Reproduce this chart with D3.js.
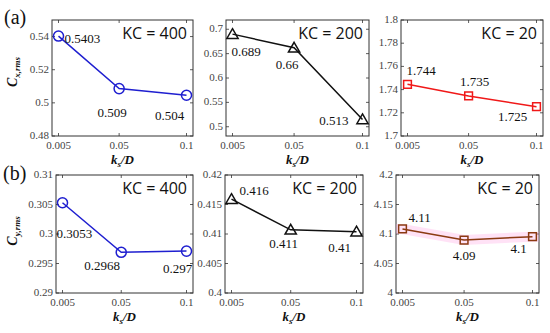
<!DOCTYPE html>
<html>
<head>
<meta charset="utf-8">
<script src="https://cdn.jsdelivr.net/npm/d3@7"></script>
<style>
  body { margin: 0; background: #fff; }
  svg { display: block; }
  .tick-label { font-family: "Liberation Serif", "Times New Roman", serif; font-size: 11px; fill: #444; }
  .val-label { font-family: "Liberation Serif", "Times New Roman", serif; font-size: 13px; fill: #111; }
  .kc-label { font-family: "Open Sans", sans-serif; font-size: 16px; fill: #111; }
  .ax-label { font-family: "Liberation Serif", "Times New Roman", serif; font-size: 13px; font-weight: bold; font-style: italic; fill: #111; }
  .panel-tag { font-family: "Liberation Serif", "Times New Roman", serif; font-size: 20px; fill: #111; }
</style>
</head>
<body>
<div id="chart"></div>
<script>
// data
const ksD = [0.005, 0.05, 0.1];
const xTickLabels = ["0.005", "0.05", "0.1"];

const cxKC400 = [0.5403, 0.5086, 0.5046];
const cxKC200 = [0.690, 0.662, 0.515];
const cxKC20 = [1.7446, 1.7345, 1.7253];
const cyKC400 = [0.3053, 0.2969, 0.2971];
const cyKC200 = [0.4159, 0.4107, 0.4104];
const cyKC20 = [4.1085, 4.0898, 4.0955];

const cxKC400Text = ["0.5403", "0.509", "0.504"];
const cxKC200Text = ["0.689", "0.66", "0.513"];
const cxKC20Text = ["1.744", "1.735", "1.725"];
const cyKC400Text = ["0.3053", "0.2968", "0.297"];
const cyKC200Text = ["0.416", "0.411", "0.41"];
const cyKC20Text = ["4.11", "4.09", "4.1"];

const cxKC400Ticks = [0.48, 0.5, 0.52, 0.54];
const cxKC200Ticks = [0.5, 0.55, 0.6, 0.65, 0.7];
const cxKC20Ticks = [1.7, 1.72, 1.74, 1.76, 1.78, 1.8];
const cyKC400Ticks = [0.29, 0.295, 0.3, 0.305, 0.31];
const cyKC200Ticks = [0.4, 0.405, 0.41, 0.415, 0.42];
const cyKC20Ticks = [4, 4.05, 4.1, 4.15, 4.2];

const kcNames = ["KC = 400", "KC = 200", "KC = 20"];

// layout of the six panels
const panels = [
  {box: [52, 20, 193, 136], ydom: [0.48, 0.55], ticks: cxKC400Ticks, vals: cxKC400, text: cxKC400Text, kc: kcNames[0],
   color: "#1f1fd0", marker: "circle", off: [[6, 7, "start"], [-7, 28, "middle"], [-17, 25, "middle"]]},
  {box: [226, 20, 369, 136], ydom: [0.481, 0.719], ticks: cxKC200Ticks, vals: cxKC200, text: cxKC200Text, kc: kcNames[1],
   color: "#111", marker: "triangle", off: [[-1, 22, "start"], [-7, 21, "middle"], [-14, 6, "end"]]},
  {box: [401, 20, 543, 136], ydom: [1.7, 1.8], ticks: cxKC20Ticks, vals: cxKC20, text: cxKC20Text, kc: kcNames[2],
   color: "#f01818", marker: "square", off: [[-1, -9, "start"], [6, -10, "middle"], [-24, 14, "middle"]]},
  {box: [56, 175, 193, 293], ydom: [0.29, 0.31], ticks: cyKC400Ticks, vals: cyKC400, text: cyKC400Text, kc: kcNames[0],
   color: "#1f1fd0", marker: "circle", off: [[-6, 35, "start"], [-19, 18, "middle"], [-9, 22, "middle"]]},
  {box: [225, 175, 363, 293], ydom: [0.4, 0.42], ticks: cyKC200Ticks, vals: cyKC200, text: cyKC200Text, kc: kcNames[1],
   color: "#111", marker: "triangle", off: [[8, -4, "start"], [-7, 18, "middle"], [-17, 20, "middle"]]},
  {box: [396, 175, 539, 293], ydom: [4, 4.2], ticks: cyKC20Ticks, vals: cyKC20, text: cyKC20Text, kc: kcNames[2],
   color: "#8b3a12", marker: "square", glow: true, off: [[6, -7, "start"], [0, 20, "middle"], [-14, 16, "middle"]]}
];

const svg = d3.select("#chart").append("svg")
  .attr("width", 550)
  .attr("height", 333);

const fmt = d => String(+d.toFixed(4));

panels.forEach((p, i) => {
  const [x0, y0, x1, y1] = p.box;
  const pad = 6.5;

  const x = d3.scaleLinear().domain([0.005, 0.1]).range([x0 + pad, x1 - pad]);
  const y = d3.scaleLinear().domain(p.ydom).range([y1, y0]);

  const g = svg.append("g");

  // inward ticks on all four sides
  const tk = 3;
  g.selectAll(".ytl").data(p.ticks).enter().append("line")
    .attr("x1", x0).attr("x2", x0 + tk).attr("y1", d => y(d)).attr("y2", d => y(d))
    .attr("stroke", "#333").attr("stroke-width", 0.8);
  g.selectAll(".ytr").data(p.ticks).enter().append("line")
    .attr("x1", x1).attr("x2", x1 - tk).attr("y1", d => y(d)).attr("y2", d => y(d))
    .attr("stroke", "#333").attr("stroke-width", 0.8);
  g.selectAll(".xtb").data(ksD).enter().append("line")
    .attr("x1", d => x(d)).attr("x2", d => x(d)).attr("y1", y1).attr("y2", y1 - tk)
    .attr("stroke", "#333").attr("stroke-width", 0.8);
  g.selectAll(".xtt").data(ksD).enter().append("line")
    .attr("x1", d => x(d)).attr("x2", d => x(d)).attr("y1", y0).attr("y2", y0 + tk)
    .attr("stroke", "#333").attr("stroke-width", 0.8);

  // tick labels
  g.selectAll(".ylab").data(p.ticks).enter().append("text")
    .attr("class", "tick-label")
    .attr("x", x0 - 3).attr("y", d => y(d) + 3)
    .attr("text-anchor", "end")
    .text(fmt);
  g.selectAll(".xlab").data(ksD).enter().append("text")
    .attr("class", "tick-label")
    .attr("x", d => x(d)).attr("y", y1 + 13)
    .attr("text-anchor", "middle")
    .text((d, j) => xTickLabels[j]);

  // frame
  g.append("rect")
    .attr("x", x0).attr("y", y0).attr("width", x1 - x0).attr("height", y1 - y0)
    .attr("fill", "none").attr("stroke", "#333").attr("stroke-width", 1);

  const pts = ksD.map((k, j) => [x(k), y(p.vals[j])]);
  const line = d3.line();

  if (p.glow) {
    g.append("path")
      .attr("d", line([[x0, pts[0][1]], ...pts, [x1, pts[2][1]]]))
      .attr("fill", "none")
      .attr("stroke", "#ff9ee0")
      .attr("stroke-opacity", 0.3)
      .attr("stroke-width", 10);
  }

  g.append("path")
    .attr("d", line(pts))
    .attr("fill", "none")
    .attr("stroke", p.color)
    .attr("stroke-width", 1.5);

  // markers
  const sym = {circle: d3.symbolCircle, triangle: d3.symbolTriangle, square: d3.symbolSquare}[p.marker];
  const size = {circle: 80, triangle: 55, square: 60}[p.marker];
  g.selectAll(".mk").data(pts).enter().append("path")
    .attr("d", d3.symbol().type(sym).size(size))
    .attr("transform", d => `translate(${d[0]},${d[1] + (p.marker === "triangle" ? 1 : 0)})`)
    .attr("fill", "none")
    .attr("stroke", p.color)
    .attr("stroke-width", 1.5);

  // value labels
  g.selectAll(".vl").data(pts).enter().append("text")
    .attr("class", "val-label")
    .attr("x", (d, j) => d[0] + p.off[j][0])
    .attr("y", (d, j) => d[1] + p.off[j][1])
    .attr("text-anchor", (d, j) => p.off[j][2])
    .text((d, j) => p.text[j]);

  g.append("text")
    .attr("class", "kc-label")
    .attr("x", x1 - 6).attr("y", y0 + 19)
    .attr("text-anchor", "end")
    .text(p.kc);

  // x axis title
  const xt = g.append("text")
    .attr("class", "ax-label")
    .attr("x", (x0 + x1) / 2).attr("y", y1 + 28)
    .attr("text-anchor", "middle");
  xt.append("tspan").text("k");
  xt.append("tspan").attr("dy", 3).attr("font-size", 9).text("s");
  xt.append("tspan").attr("dy", -3).text("/D");
});

// y axis titles
[["x", 72], ["y", 231]].forEach(([s, cy]) => {
  const t = svg.append("text")
    .attr("class", "ax-label")
    .attr("transform", `translate(17,${cy}) rotate(-90)`)
    .attr("text-anchor", "middle");
  t.append("tspan").attr("font-size", 14).text("C");
  t.append("tspan").attr("dy", 3).attr("font-size", 9).text(s + ",rms");
});

svg.append("text").attr("class", "panel-tag").attr("x", 4).attr("y", 24).text("(a)");
svg.append("text").attr("class", "panel-tag").attr("x", 3).attr("y", 180).text("(b)");
</script>
</body>
</html>
